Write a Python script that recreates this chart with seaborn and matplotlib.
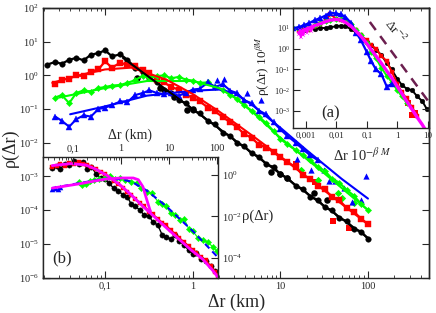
import numpy as np
import pandas as pd
import matplotlib
matplotlib.use("Agg")
import matplotlib.pyplot as plt
import seaborn as sns
from matplotlib.ticker import LogLocator, NullFormatter, NullLocator

nan = np.nan

# %% main panel: rho(dr) against dr (km), four data sets
r_km = [0.022, 0.027, 0.032, 0.039, 0.047, 0.057, 0.069, 0.084,
        0.10, 0.12, 0.15, 0.18, 0.22, 0.27, 0.32, 0.39, 0.47, 0.57, 0.69, 0.84,
        1.0, 1.2, 1.5, 1.8, 2.2, 2.7, 3.2, 3.9, 4.7, 5.7, 6.9, 8.4,
        10, 12, 15, 18, 22, 27, 32, 39, 47, 57, 69, 84, 100]
rho_black = [2.1, 2.5, 2.2, 2.9, 3.3, 2.8, 4.1, 4.6,
             5.5, 3.7, 4.2, 2.9, 1.7, 1.3, 0.82, 0.64, 0.38, 0.31, 0.18, 0.15,
             0.092, 0.074, 0.043, 0.035, 0.020, 0.016, 0.0098, 0.0079, 0.0048, 0.0039, 0.0023, 0.0019,
             0.00115, 0.00092, 0.00052, 0.00043, 0.00025, 0.0002, 0.000122, 0.000098, 0.000058,
             0.000047, 0.000028, 0.000023, 0.000014]
rho_red = [nan, 0.55, 0.75, 0.8, 1.0, 0.95, 1.3, 1.5,
           2.6, 1.7, 2.4, 2.0, 1.9, 1.4, 1.2, 0.75, 0.62, 0.45, 0.38, 0.26,
           0.22, 0.17, 0.11, 0.085, 0.058, 0.04, 0.029, 0.018, 0.014, 0.0088, 0.0072, 0.0052,
           0.0037, 0.0027, 0.0019, 0.0011, 0.00085, 0.00053, 0.00041, 0.00025, 0.0002,
           0.000115, 0.00009, 0.000055, 0.000038]
rho_green = [nan, 0.22, 0.26, 0.15, 0.3, 0.36, 0.33, 0.42,
             0.45, 0.5, 0.52, 0.6, 0.72, 0.98, 0.85, 0.95, 1.0, 0.82, 0.9, 0.75,
             0.7, 0.6, 0.62, 0.45, 0.38, 0.27, 0.2, 0.13, 0.09, 0.06, 0.038, 0.022,
             0.013, 0.009, 0.006, 0.0042, 0.0031, 0.0019, 0.0015, 0.00085, 0.00066,
             0.0004, 0.00027, 0.00015, 0.0001]
rho_blue = [nan, 0.06, 0.045, 0.03, 0.05, 0.065, 0.06, 0.1,
            0.11, 0.13, 0.17, 0.16, 0.26, 0.3, 0.36, 0.3, 0.28, 0.3, 0.25, 0.3,
            0.38, 0.4, 0.62, 0.45, 0.55, 0.35, 0.3, 0.18, 0.15, 0.09, 0.07, 0.04,
            0.025, 0.016, 0.01, 0.0065, 0.0042, 0.003, nan, nan, nan,
            nan, nan, nan, nan]

# loose symbols of the main panel
black_pts_r = [0.23, 0.42, 0.62, 0.87, 1.0, 7.8, 9.9, 12, 24, 34]
black_pts_rho = [0.85, 0.43, 0.23, 0.095, 0.1, 1.4e-3, 1.2e-3, 9e-4, 3.3e-4, 2e-4]
red_pts_r = [15, 25, 40, 61]
red_pts_rho = [2.4e-3, 7e-4, 4.6e-5, 3.0e-5]
green_pts_r = [17, 27, 45, 50, 70]
green_pts_rho = [1.6e-3, 8e-4, 3.3e-4, 2.3e-4, 1.6e-4]
blue_pts_r = [1.9, 2.3, 4.2, 6.0, 15.7, 22.3, 31.4, 35.8, 42.6, 52.7, 65.6, 83, 96]
blue_pts_rho = [0.75, 0.8, 0.3, 0.18, 3.2e-3, 1.6e-3, 1.6e-3, 7.1e-4, 7.1e-4, 4.6e-4, 1.8e-4, 2e-4, 1e-3]

# fitted curves of the main panel
fit_black_r = [0.16, 1, 10, 100]
fit_black_rho = [3.3, 0.1, 1.2e-3, 1.5e-5]
fit_red_r = [0.025, 0.05, 0.1, 0.2, 0.5, 1, 2, 5, 10, 30, 100]
fit_red_rho = [0.6, 1.0, 1.5, 1.7, 0.75, 0.28, 0.085, 0.015, 3.9e-3, 4.3e-4, 3.8e-5]
fit_green_r = [0.03, 0.1, 0.3, 1, 2, 3, 5, 10, 30, 100]
fit_green_rho = [0.22, 0.42, 0.68, 0.68, 0.42, 0.22, 0.075, 0.014, 1.4e-3, 1.0e-4]
fit_blue_r = [0.04, 0.1, 0.3, 1, 2, 3, 5, 10, 20, 50, 100]
fit_blue_rho = [0.07, 0.12, 0.25, 0.35, 0.38, 0.3, 0.12, 0.028, 6e-3, 8.5e-4, 2.2e-4]

main_xticks = [0.1, 1, 10, 100]
main_xticklabels = ['0,1', '1', '10', '100']

# %% inset (a): rescaled curves
xa = [0.0004, 0.0006, 0.0009, 0.0013, 0.002, 0.003, 0.0045, 0.0065,
      0.01, 0.014, 0.02, 0.03, 0.045, 0.065, 0.1, 0.14,
      0.2, 0.3, 0.45, 0.65, 1.0, 1.4, 2.0, 3.0, 4.5, 6.5, 9.0]
a_magenta = [nan, 6, 8, 10, 13, 16, 20, 24,
             26, 24, 19, 12.5, 7, 4, 1.8, 0.9,
             0.45, 0.2, 0.085, 0.04, 0.015, 7e-3, 3e-3, 1.2e-3, 4.8e-4, 2.2e-4, 1.0e-4]
a_black = [nan, nan, 8, 9, 9, 10, 10, 11,
           12, 13, 12, 9, 6, 4, 2.2, 1.5,
           0.9, 0.5, 0.2, 0.1, 0.035, 0.018, 0.012, 0.01, 5e-3, 3e-3, 1.3e-3]
a_red = [nan, 7, 9, 8, 12, 15, 22, 45,
         28, 25, 22, 14, 8, 4.5, 2.5, 1.5,
         1.0, 0.45, 0.25, 0.08, 0.02, 8e-3, 4e-3, 1.5e-3, 6e-4, nan, nan]
a_green = [10, 9, 12, 10, 14, 18, 22, 25,
           28, 26, 24, 16, 8, 4.5, 1.8, 0.7,
           0.35, 0.12, 0.05, 0.025, 0.01, 5e-3, 2.5e-3, nan, nan, nan, nan]
a_blue = [10, 11, 14, 17, 24, 30, 40, 55,
          50, 45, 35, 18, 6, 2.5, 0.7, 0.25,
          0.1, 0.06, 0.015, 0.02, nan, nan, nan, nan, nan, nan, nan]
a_magenta_noise_x = [0.0006, 0.00065, 0.0007, 0.00078, 0.00085, 0.00095, 0.0011, 0.0013, 0.0015, 0.0018]
a_magenta_noise_y = [5, 8, 3.5, 7.5, 4.5, 9, 6, 10, 7, 11]
a_red_pts_x = [2.2, 3.0, 3.8]
a_red_pts_y = [2.5e-3, 6.3e-4, 8e-4]
slope_x = [0.126, 10.5]
slope_y = [19.5, 2.8e-3]
a_xticks = [0.001, 0.01, 0.1, 1, 10]
a_xticklabels = ['0,001', '0,01', '0,1', '1', '10']

# %% inset (b): small-distance part
xb = [0.025, 0.028, 0.031, 0.035, 0.039, 0.044, 0.05, 0.056, 0.063, 0.07,
      0.079, 0.089, 0.1, 0.11, 0.125, 0.14, 0.16, 0.18, 0.2, 0.22,
      0.25, 0.28, 0.32, 0.35, 0.4, 0.45, 0.5, 0.56, 0.63, 0.7,
      0.8, 0.9, 1.0, 1.1, 1.25, 1.4, 1.6, 1.8, 1.95]
b_black = [1.8e-3, 2.0e-3, 1.7e-3, 2.4e-3, 2.2e-3, 2.8e-3, 2.3e-3, 2.6e-3, 1.7e-3, 1.9e-3,
           1.2e-3, 9e-4, 8.5e-4, 6.5e-4, 4.5e-4, 3.8e-4, 2.9e-4, 2.4e-4, 1.5e-4, 1.3e-4,
           1.0e-4, 7e-5, 6.5e-5, 4.5e-5, 3.6e-5, 1.8e-5, 1.6e-5, 1.4e-5, 1.8e-5, 1.2e-5,
           9e-6, 6.5e-6, 5e-6, 5.5e-6, 3.6e-6, 3e-6, 2.2e-6, 1.6e-6, nan]
b_red = [1.9e-3, 2.1e-3, 2.3e-3, 2.0e-3, 2.5e-3, 2.4e-3, 2.6e-3, 2.3e-3, 2.2e-3, 1.9e-3,
         1.7e-3, 1.35e-3, 1.2e-3, 9.5e-4, 7.5e-4, 6e-4, 4.6e-4, 3.4e-4, 2.8e-4, 2.2e-4,
         1.6e-4, 1.3e-4, 9e-5, 7.5e-5, 5.5e-5, 4.2e-5, 3.5e-5, 2.5e-5, 2e-5, 1.5e-5,
         1.1e-5, 8.5e-6, 6.5e-6, 5.5e-6, 4e-6, 3.2e-6, 2.2e-6, 1.5e-6, 1.1e-6]
b_green_x = [0.05, 0.055, 0.06, 0.068, 0.075, 0.085, 0.1, 0.115, 0.13, 0.15,
             0.17, 0.2, 0.23, 0.26, 0.3, 0.34, 0.4, 0.45, 0.5, 0.56,
             0.63, 0.72, 0.8, 0.9, 1.0, 1.15, 1.3, 1.5, 1.7, 1.9]
b_green = [7e-4, 5.5e-4, 6e-4, 7.5e-4, 8e-4, 8.5e-4, 9e-4, 1.0e-3, 8.5e-4, 9e-4,
           8e-4, 7e-4, 6.5e-4, 4.5e-4, 3.5e-4, 3.2e-4, 1.8e-4, 1.5e-4, 1.3e-4, 8e-5,
           7e-5, 5e-5, 5.5e-5, 2.8e-5, 2.4e-5, 1.5e-5, 1.3e-5, 1.1e-5, 8e-6, 6e-6]
b_blue_x = [0.025, 0.027, 0.029, 0.031]
b_blue = [4.3e-4, 4.6e-4, 4.2e-4, 4.8e-4]
b_blue_fit_x = [0.025, 0.05, 0.1, 0.15, 0.2, 0.3, 0.5, 1.0, 1.5, 1.95]
b_blue_fit = [4.5e-4, 6.3e-4, 8.5e-4, 8.3e-4, 7e-4, 3.8e-4, 1.3e-4, 2.4e-5, 8e-6, 3.9e-6]
b_mag1_x = [0.025, 0.04, 0.06, 0.08, 0.11, 0.15, 0.2, 0.27, 0.5, 0.93, 1.3, 1.7, 1.95]
b_mag1 = [2.1e-3, 2.4e-3, 2.2e-3, 1.6e-3, 1.0e-3, 5.5e-4, 2.8e-4, 1.3e-4, 3e-5, 7e-6, 3.5e-6, 1.6e-6, 1.0e-6]
b_mag2_x = [0.025, 0.05, 0.1, 0.15, 0.21, 0.24, 0.27, 0.3, 0.33]
b_mag2 = [4.5e-4, 6e-4, 8.3e-4, 9e-4, 9e-4, 8e-4, 5e-4, 2e-4, 9e-5]
b_top_ticks = [0.1, 1, 10, 100]
b_top_ticklabels = ['0,1', '1', '10', '100']

BLACK, RED, GREEN, BLUE, MAGENTA = 'black', '#ff0000', '#00ff00', '#0000ff', '#ff00ff'

sns.set_style("ticks")
plt.rcParams['font.family'] = ['Liberation Serif', 'DejaVu Serif']
plt.rcParams['mathtext.fontset'] = 'stix'
plt.rcParams['axes.linewidth'] = 1.0

W, H = 436, 313
fig = plt.figure(figsize=(W / 100, H / 100), dpi=100)


def rect(x0, y0, x1, y1):
    # pixel box of the reference -> figure fraction
    return [x0 / W, 1 - y1 / H, (x1 - x0) / W, (y1 - y0) / H]


def band(ax, x, y, color, marker, ms=3.2, lw=1.0):
    d = pd.DataFrame({'r': x, 'rho': y}).dropna()
    sns.lineplot(data=d, x='r', y='rho', ax=ax, color=color, lw=lw, marker=marker,
                 markersize=ms, markeredgecolor=color, markeredgewidth=0.3,
                 estimator=None, sort=False, legend=False)


def curve(ax, x, y, color, lw=1.5, ls='-'):
    d = pd.DataFrame({'r': x, 'rho': y})
    sns.lineplot(data=d, x='r', y='rho', ax=ax, color=color, lw=lw, ls=ls,
                 estimator=None, sort=False, legend=False)


def dots(ax, x, y, color, marker, s=14):
    sns.scatterplot(x=x, y=y, ax=ax, color=color, marker=marker, s=s,
                    linewidth=0, legend=False)


def ticks_in(ax, size=7.5):
    ax.tick_params(which='both', direction='in', labelsize=size, pad=3)
    ax.tick_params(which='major', length=5, width=0.8)
    ax.tick_params(which='minor', length=2.5, width=0.6)


def minor_x(ax):
    ax.xaxis.set_minor_locator(LogLocator(base=10, subs=np.arange(2, 10) * 1.0, numticks=30))
    ax.xaxis.set_minor_formatter(NullFormatter())


# %% main axes
main_rect = rect(43, 8, 429, 277.5)
main_xlim = (0.0196, 497)
main_ylim = (1e-6, 1e2)
ax = fig.add_axes(main_rect)
ax.set_xscale('log')
ax.set_yscale('log')
band(ax, r_km, rho_black, BLACK, 'o', ms=4.0, lw=1.6)
band(ax, r_km, rho_red, RED, 's', ms=3.8, lw=1.6)
band(ax, r_km, rho_green, GREEN, 'D', ms=3.2, lw=1.5)
band(ax, r_km, rho_blue, BLUE, '^', ms=4.0, lw=1.5)
dots(ax, black_pts_r, black_pts_rho, BLACK, 'o', 22)
dots(ax, red_pts_r, red_pts_rho, RED, 's', 18)
dots(ax, green_pts_r, green_pts_rho, GREEN, 'D', 14)
dots(ax, blue_pts_r, blue_pts_rho, BLUE, '^', 20)
curve(ax, fit_blue_r, fit_blue_rho, BLUE)
curve(ax, fit_green_r, fit_green_rho, GREEN)
curve(ax, fit_red_r, fit_red_rho, RED)
curve(ax, fit_black_r, fit_black_rho, BLACK)
ax.set_xlim(*main_xlim)
ax.set_ylim(*main_ylim)
ax.set_xlabel('')
ax.set_ylabel('')
ax.set_xticks(main_xticks)
ax.set_xticklabels(main_xticklabels)
minor_x(ax)
ax.set_yticks([10.0 ** k for k in range(-6, 3)])
ax.yaxis.set_minor_locator(NullLocator())
ticks_in(ax)

# %% inset (b), same scale as the main frame
axb = fig.add_axes(rect(43, 157, 218, 277.5))
axb.set_facecolor('white')
axb.set_xscale('log')
axb.set_yscale('log')
band(axb, xb, b_black, BLACK, 'o', ms=3.8, lw=1.0)
band(axb, xb, b_red, RED, 's', ms=3.0, lw=1.4)
band(axb, b_green_x, b_green, GREEN, 'D', ms=3.2, lw=0.8)
dots(axb, b_blue_x, b_blue, BLUE, '^', 16)
curve(axb, b_blue_fit_x, b_blue_fit, BLUE, lw=1.5, ls=(0, (3, 2)))
curve(axb, b_mag1_x, b_mag1, MAGENTA, lw=2.0)
curve(axb, b_mag2_x, b_mag2, MAGENTA, lw=2.0)
axb.set_xlim(0.0196, 1.944)
axb.set_ylim(1e-6, 10 ** -2.4227)
axb.set_xlabel('')
axb.set_ylabel('')
axb.set_xticks([0.1, 1])
minor_x(axb)
axb.set_yticks([1e-6, 1e-5, 1e-4, 1e-3])
axb.yaxis.set_minor_locator(NullLocator())
axb.tick_params(labelleft=False, labelbottom=False)
ticks_in(axb)

# secondary scales drawn on top and right of inset (b)
axb2 = fig.add_axes(rect(43, 157, 218, 277.5))
axb2.patch.set_alpha(0)
axb2.set_xscale('log')
axb2.set_yscale('log')
axb2.set_xlim(0.0237, 105)
axb2.set_ylim(10 ** -4.94, 10 ** 0.867)
axb2.set_xticks(b_top_ticks)
axb2.set_xticklabels(b_top_ticklabels)
minor_x(axb2)
axb2.set_yticks([1e-4, 1e-2, 1])
axb2.yaxis.set_minor_locator(NullLocator())
axb2.xaxis.tick_top()
axb2.yaxis.tick_right()
for s in axb2.spines.values():
    s.set_visible(False)
ticks_in(axb2)

# %% inset (a)
axa = fig.add_axes(rect(293, 8, 429, 128))
axa.set_facecolor('white')
axa.set_xscale('log')
axa.set_yscale('log')
band(axa, xa, a_black, BLACK, 'o', ms=3.4, lw=1.4)
band(axa, xa, a_red, RED, 's', ms=3.2, lw=1.4)
band(axa, xa, a_green, GREEN, 'D', ms=3.0, lw=1.4)
band(axa, xa, a_blue, BLUE, '^', ms=3.8, lw=1.6)
dots(axa, a_red_pts_x, a_red_pts_y, RED, 's', 14)
band(axa, a_magenta_noise_x, a_magenta_noise_y, MAGENTA, 'x', ms=2.5, lw=1.4)
curve(axa, xa, a_magenta, MAGENTA, lw=2.4)
curve(axa, slope_x, slope_y, '#6b1f4f', lw=1.8, ls=(0, (4, 3)))
axa.set_xlim(10 ** -3.41, 10.8)
axa.set_ylim(10 ** -3.82, 10 ** 1.964)
axa.set_xlabel('')
axa.set_ylabel('')
axa.set_xticks(a_xticks)
axa.set_xticklabels(a_xticklabels)
axa.xaxis.set_minor_locator(NullLocator())
axa.set_yticks([1e-3, 1e-2, 1e-1, 1, 10])
axa.yaxis.set_minor_locator(NullLocator())
ticks_in(axa, size=6.5)
axa.tick_params(axis='y', pad=2, labelsize=6)

# %% top / right ticks of the main frame, drawn over the insets
axo = fig.add_axes(main_rect)
axo.patch.set_alpha(0)
axo.set_xscale('log')
axo.set_yscale('log')
axo.set_xlim(*main_xlim)
axo.set_ylim(*main_ylim)
axo.set_xticks(main_xticks)
minor_x(axo)
axo.set_yticks([10.0 ** k for k in range(-6, 3)])
axo.yaxis.set_minor_locator(NullLocator())
axo.tick_params(which='both', left=False, bottom=False, top=True, right=True,
                labelleft=False, labelbottom=False)
axo.spines['left'].set_visible(False)
axo.spines['bottom'].set_visible(False)
ticks_in(axo)


# %% labels
def px_text(x, y, s, **kw):
    fig.text(x / W, 1 - y / H, s, ha='center', va='center', **kw)


px_text(237, 302, 'Δr (km)', fontsize=13)
px_text(10, 148, 'ρ(Δr)', fontsize=13, rotation=90)
px_text(130, 135, 'Δr (km)', fontsize=10)
px_text(258, 216, 'ρ(Δr)', fontsize=10.5)
px_text(263, 66, 'ρ(Δr) 10$^{\\beta M}$', fontsize=9.5, rotation=90)
px_text(362, 155, 'Δr 10$^{-\\beta\\ M}$', fontsize=10.5)
px_text(331, 113, '(a)', fontsize=12)
px_text(62, 258, '(b)', fontsize=12)
px_text(395, 31, 'Δr$^{-2}$', fontsize=9.5, rotation=-52)

fig.savefig('out.png', dpi=100)
